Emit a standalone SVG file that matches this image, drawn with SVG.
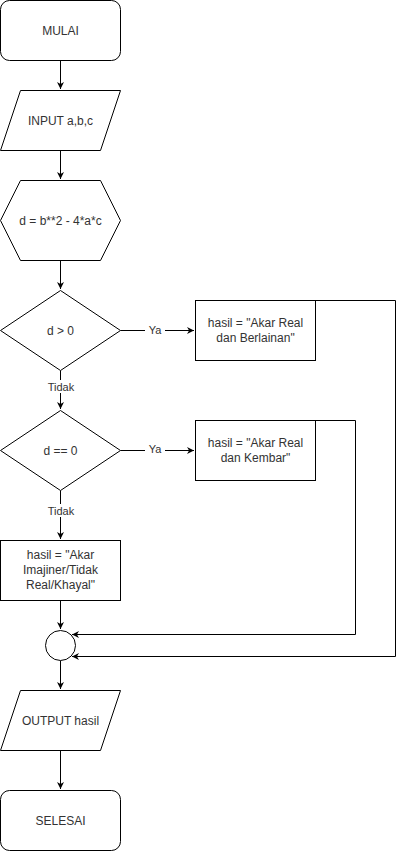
<svg xmlns="http://www.w3.org/2000/svg" width="404" height="852" viewBox="0 0 404 852">
<defs>
<marker id="arr" viewBox="0 0 10 10" refX="10" refY="5" markerWidth="7" markerHeight="7" markerUnits="userSpaceOnUse" orient="auto">
<path d="M0,0 L10,5 L0,10 L3,5 Z" fill="#000"/>
</marker>
</defs>
<style>
.s{fill:#fff;stroke:#000;stroke-width:1}
.t{font-family:"Liberation Sans",Arial,sans-serif;font-size:12px;fill:#333;text-anchor:middle}
.l{font-family:"Liberation Sans",Arial,sans-serif;font-size:11px;fill:#333;text-anchor:middle}
.c{fill:none;stroke:#000;stroke-width:1}
</style>
<rect width="404" height="852" fill="#fff"/>
<g id="connectors">
<path class="c" d="M60.5,60.5 V89" marker-end="url(#arr)"/>
<path class="c" d="M60.5,150.5 V179" marker-end="url(#arr)"/>
<path class="c" d="M60.5,260.5 V289" marker-end="url(#arr)"/>
<path class="c" d="M120.5,330.5 H194" marker-end="url(#arr)"/>
<path class="c" d="M60.5,370.5 V409" marker-end="url(#arr)"/>
<path class="c" d="M120.5,450.5 H194" marker-end="url(#arr)"/>
<path class="c" d="M60.5,490.5 V539" marker-end="url(#arr)"/>
<path class="c" d="M60.5,600.5 V629" marker-end="url(#arr)"/>
<path class="c" d="M315.5,420.5 H355.5 V634.5 H72" marker-end="url(#arr)"/>
<path class="c" d="M315.5,300.5 H395.5 V656.5 H72" marker-end="url(#arr)"/>
<path class="c" d="M60.5,660.5 V689" marker-end="url(#arr)"/>
<path class="c" d="M60.5,750.5 V789" marker-end="url(#arr)"/>
<rect x="145" y="323" width="20" height="13" fill="#fff"/>
<text class="l" x="155" y="334">Ya</text>
<rect x="145" y="443" width="20" height="13" fill="#fff"/>
<text class="l" x="155" y="453">Ya</text>
<rect x="47" y="380" width="28" height="13" fill="#fff"/>
<text class="l" x="61" y="391">Tidak</text>
<rect x="47" y="504" width="28" height="13" fill="#fff"/>
<text class="l" x="61" y="515">Tidak</text>
</g>
<g id="mulai"><rect class="s" x="0.5" y="0.5" width="120" height="60" rx="9"/><text class="t" x="60.5" y="34.5">MULAI</text></g>
<g id="input"><path class="s" d="M20.5,90.5 H120.5 L100.5,150.5 H0.5 Z"/><text class="t" x="60.5" y="124.5">INPUT a,b,c</text></g>
<g id="hitung"><path class="s" d="M20.5,180.5 H100.5 L120.5,220.5 L100.5,260.5 H20.5 L0.5,220.5 Z"/><text class="t" x="60.5" y="224.5">d = b**2 - 4*a*c</text></g>
<g id="cek1"><path class="s" d="M60.5,290.5 L120.5,330.5 L60.5,370.5 L0.5,330.5 Z"/><text class="t" x="60.5" y="334.5">d &gt; 0</text></g>
<g id="hasil1"><rect class="s" x="195.5" y="300.5" width="120" height="60"/><text class="t" x="255.5" y="327">hasil = "Akar Real</text><text class="t" x="255.5" y="342">dan Berlainan"</text></g>
<g id="cek2"><path class="s" d="M60.5,410.5 L120.5,450.5 L60.5,490.5 L0.5,450.5 Z"/><text class="t" x="60.5" y="454.5">d == 0</text></g>
<g id="hasil2"><rect class="s" x="195.5" y="420.5" width="120" height="60"/><text class="t" x="255.5" y="447">hasil = "Akar Real</text><text class="t" x="255.5" y="462">dan Kembar"</text></g>
<g id="hasil3"><rect class="s" x="0.5" y="540.5" width="120" height="60"/><text class="t" x="60.5" y="559">hasil = "Akar</text><text class="t" x="60.5" y="574">Imajiner/Tidak</text><text class="t" x="60.5" y="589">Real/Khayal"</text></g>
<g id="gabung"><circle class="s" cx="60.5" cy="645.5" r="15"/></g>
<g id="output"><path class="s" d="M20.5,690.5 H120.5 L100.5,750.5 H0.5 Z"/><text class="t" x="60.5" y="724.5">OUTPUT hasil</text></g>
<g id="selesai"><rect class="s" x="0.5" y="790.5" width="120" height="60" rx="9"/><text class="t" x="60.5" y="824.5">SELESAI</text></g>
</svg>
